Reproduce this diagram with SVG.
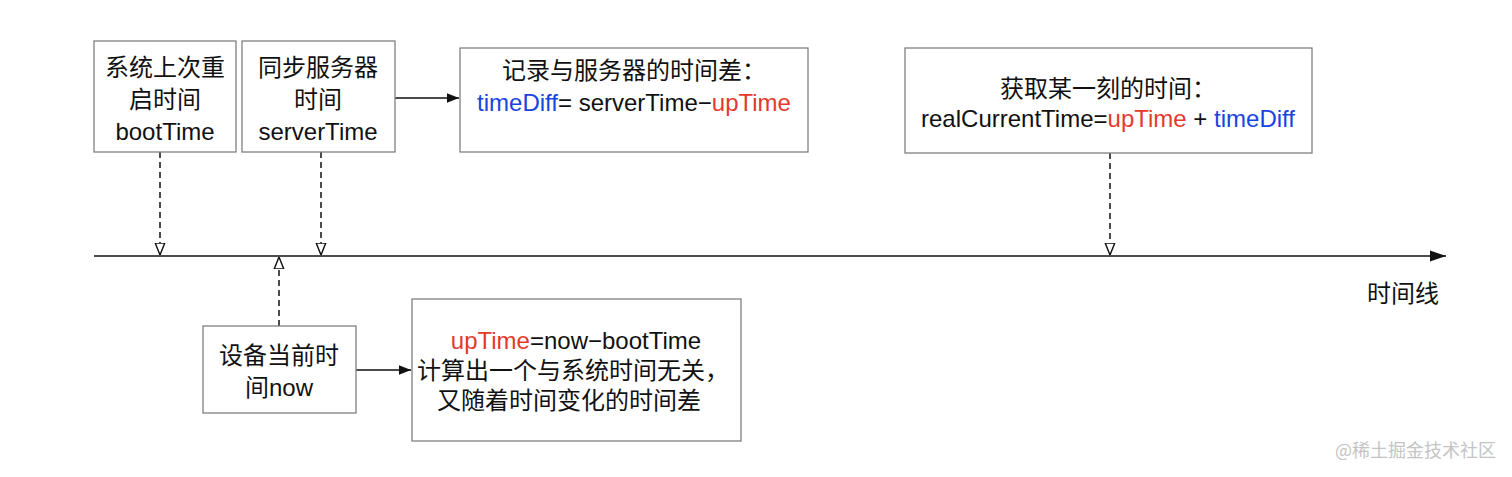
<svg xmlns="http://www.w3.org/2000/svg" width="1512" height="477" viewBox="0 0 1512 477">
<style>
.box{fill:#fff;stroke:#808080;stroke-width:1.3}
.t{font-family:"Liberation Sans","Noto Sans CJK SC",sans-serif;font-size:24px;fill:#111;text-anchor:middle}
.b{fill:#1a44e0}
.r{fill:#e6392b}
.dash{stroke:#111;stroke-width:1.5;stroke-dasharray:6 4;fill:none}
.solid{stroke:#111;stroke-width:1.4;fill:none}
.wm{font-family:"Noto Sans CJK SC",sans-serif;font-size:18px;fill:#c4c4c4}
</style>
<defs>
<marker id="open" viewBox="0 0 10 10" refX="10" refY="5" markerWidth="12" markerHeight="12" markerUnits="userSpaceOnUse" orient="auto">
<path d="M0,1 L10,5 L0,9 Z" fill="#fff" stroke="#111" stroke-width="1.2"/>
</marker>
<marker id="fill" viewBox="0 0 10 10" refX="10" refY="5" markerWidth="12" markerHeight="12" markerUnits="userSpaceOnUse" orient="auto">
<path d="M0,1 L10,5 L0,9 Z" fill="#111"/>
</marker>
<marker id="big" viewBox="0 0 10 10" refX="10" refY="5" markerWidth="16" markerHeight="16" markerUnits="userSpaceOnUse" orient="auto">
<path d="M0,1.5 L10,5 L0,8.5 Z" fill="#111"/>
</marker>
</defs>
<rect width="1512" height="477" fill="#fff"/>
<g id="connectors">
<line class="solid" x1="94" y1="256" x2="1446" y2="256" marker-end="url(#big)"/>
<line class="dash" x1="160" y1="152" x2="160" y2="255" marker-end="url(#open)"/>
<line class="dash" x1="321" y1="152" x2="321" y2="255" marker-end="url(#open)"/>
<line class="dash" x1="1110" y1="153" x2="1110" y2="255" marker-end="url(#open)"/>
<line class="dash" x1="279" y1="326" x2="279" y2="257" marker-end="url(#open)"/>
<line class="solid" x1="395" y1="98" x2="459" y2="98" marker-end="url(#fill)"/>
<line class="solid" x1="356" y1="370" x2="411" y2="370" marker-end="url(#fill)"/>
</g>
<g id="node-boot">
<rect class="box" x="94" y="41" width="142" height="111"/>
<text class="t" x="165" y="76">系统上次重</text>
<text class="t" x="165" y="108">启时间</text>
<text class="t" x="165" y="140">bootTime</text>
</g>
<g id="node-server">
<rect class="box" x="242" y="41" width="153" height="111"/>
<text class="t" x="318" y="76">同步服务器</text>
<text class="t" x="318" y="108">时间</text>
<text class="t" x="318" y="140">serverTime</text>
</g>
<g id="node-diff">
<rect class="box" x="460" y="48" width="348" height="104"/>
<text class="t" x="634" y="79">记录与服务器的时间差：</text>
<text class="t" x="634" y="111"><tspan class="b">timeDiff</tspan>= serverTime−<tspan class="r">upTime</tspan></text>
</g>
<g id="node-real">
<rect class="box" x="905" y="48" width="407" height="105"/>
<text class="t" x="1108" y="97">获取某一刻的时间：</text>
<text class="t" x="1108" y="127">realCurrentTime=<tspan class="r">upTime</tspan> + <tspan class="b">timeDiff</tspan></text>
</g>
<g id="node-now">
<rect class="box" x="203" y="326" width="153" height="87"/>
<text class="t" x="279" y="364">设备当前时</text>
<text class="t" x="279" y="396">间now</text>
</g>
<g id="node-uptime">
<rect class="box" x="412" y="299" width="329" height="142"/>
<text class="t" x="576" y="349"><tspan class="r">upTime</tspan>=now−bootTime</text>
<text class="t" x="573" y="379">计算出一个与系统时间无关，</text>
<text class="t" x="569" y="409">又随着时间变化的时间差</text>
</g>
<g id="label-timeline">
<text class="t" x="1403" y="302">时间线</text>
</g>
<text class="wm" x="1335" y="457">@稀土掘金技术社区</text>
</svg>
